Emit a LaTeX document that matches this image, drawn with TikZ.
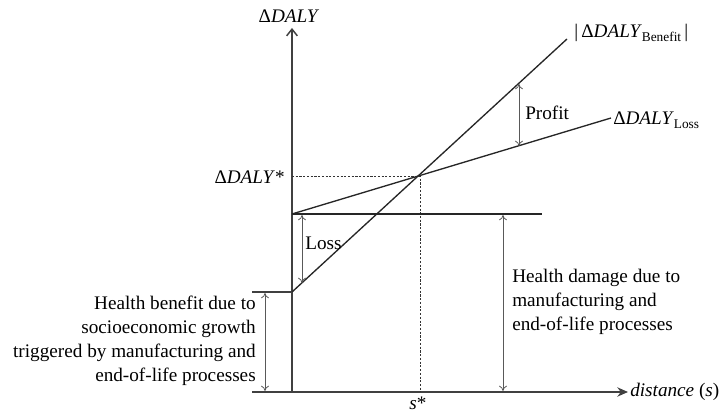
\documentclass[tikz,border=0pt]{standalone}
\usepackage{fontspec}
\setmainfont{Liberation Serif}
\usetikzlibrary{arrows.meta}
\tikzset{
  axisline/.style={draw=black!75, line width=1.1pt},
  curve/.style={draw=black!85, line width=1pt},
  guide/.style={draw=black!80, line width=0.6pt, dash pattern=on 1.6pt off 1.2pt},
  dimarrow/.style={draw=black!65, line width=0.6pt, {To[length=4pt,width=6pt]}-{To[length=4pt,width=6pt]}},
  lbl/.style={inner sep=0pt, font=\fontsize{14.4}{18}\selectfont},
}
\newcommand{\dalyx}{Δ\textit{DALY}}
\begin{document}
\begin{tikzpicture}[x=0.75pt,y=-0.75pt]
\useasboundingbox (0,0) rectangle (722,413);
% key points
\coordinate (O) at (292,392);
\coordinate (Ytop) at (292,28);
\coordinate (Xleft) at (252,392);
\coordinate (Xend) at (628,392);
\coordinate (B0) at (292,292);
\coordinate (BL) at (252,292);
\coordinate (B1) at (567,39);
\coordinate (L0) at (292,214);
\coordinate (L1) at (611,118);
\coordinate (H1) at (542,214);
\coordinate (I) at (420,176);
\coordinate (Ibase) at (420,392);
\coordinate (Iax) at (292,176);
% dimension arrow ends
\coordinate (Pt) at (519,84);
\coordinate (Pb) at (519,146);
\coordinate (Lt) at (302,215);
\coordinate (Lb) at (302,283);
\coordinate (Ht) at (503,215);
\coordinate (Hb) at (503,391);
\coordinate (Gt) at (265,293);
\coordinate (Gb) at (265,391);
% axes
\draw[axisline,-{Straight Barb[length=5pt,width=8pt]}] (O) -- (Ytop);
\draw[axisline,-{Stealth[length=8pt,width=7pt]}] (Xleft) -- (Xend);
\draw[axisline] (BL) -- (B0);
% guides
\draw[guide] (Iax) -- (I) -- (Ibase);
% curves
\draw[curve] (B0) -- (B1);
\draw[curve] (L0) -- (L1);
\draw[curve] (L0) -- (H1);
% dimension arrows
\draw[dimarrow] (Pt) -- (Pb);
\draw[dimarrow] (Lt) -- (Lb);
\draw[dimarrow] (Ht) -- (Hb);
\draw[dimarrow] (Gt) -- (Gb);
% labels
\node[lbl, anchor=south] (ylab) at (289,23) {\dalyx};
\node[lbl, anchor=west] (xlab) at (630,392) {\textit{distance} (\textit{s})};
\node[lbl, anchor=east] (dstar) at (285,177) {\dalyx*};
\node[lbl, anchor=north] (sstar) at (418,397) {\textit{s}*};
\node[lbl, anchor=west] (benlab) at (574,33) {|\,\dalyx\raisebox{-0.45ex}{\fontsize{10}{10}\selectfont Benefit}\,|};
\node[lbl, anchor=west] (losslab) at (613,120) {\dalyx\raisebox{-0.45ex}{\fontsize{10}{10}\selectfont Loss}};
\node[lbl, anchor=west] (profit) at (525,113) {Profit};
\node[lbl, anchor=west] (loss) at (305,243) {Loss};
\node[lbl, anchor=west, align=left] (dmg) at (512,302) {Health damage due to\\manufacturing and\\end-of-life processes};
\node[lbl, anchor=east, align=right] (ben) at (256,341) {Health benefit due to\\socioeconomic growth\\triggered by manufacturing and\\end-of-life processes};
\end{tikzpicture}
\end{document}
